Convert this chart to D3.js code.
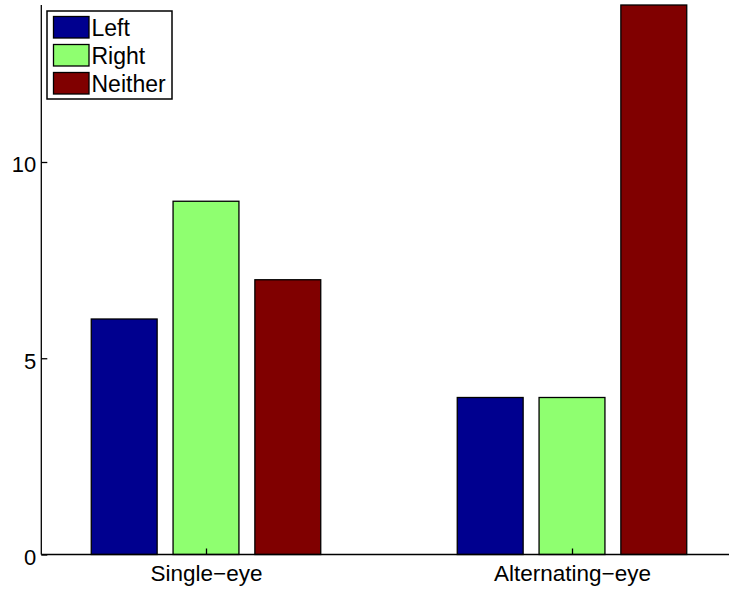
<!DOCTYPE html>
<html>
<head>
<meta charset="utf-8">
<script src="https://cdn.jsdelivr.net/npm/d3@7"></script>
<style>
  html, body { margin: 0; padding: 0; background: #fff; }
  svg { display: block; font-family: "Liberation Sans", Arial, Helvetica, sans-serif; }
</style>
</head>
<body>
<svg id="chart" width="729" height="590"></svg>
<script>
// Grouped bar chart: counts per category for each eye condition
const categories = ["Single\u2212eye", "Alternating\u2212eye"];
const seriesNames = ["Left", "Right", "Neither"];
const leftValues = [6, 4];
const rightValues = [9, 4];
const neitherValues = [7, 14];
const yTicks = [0, 5, 10];
const colors = ["#00008f", "#8fff70", "#800000"];

const series = [leftValues, rightValues, neitherValues];

const svg = d3.select("#chart");
const fontFamily = "Liberation Sans, Arial, sans-serif";

// numeric x positions 1..n for groups
const x = d3.scaleLinear().domain([0.55, 2.45]).range([41.3, 736.7]);
const y = d3.scaleLinear().domain([0, 14]).range([554.5, 5]);

const barW = 0.18;      // width of a single bar in group units
const barStep = 0.2235; // spacing between bar centres within a group

const g = svg.append("g");

series.forEach((vals, si) => {
  g.selectAll(".bar" + si)
    .data(vals)
    .join("rect")
    .attr("x", (d, i) => x(i + 1 + (si - 1) * barStep - barW / 2))
    .attr("width", x(barW) - x(0))
    .attr("y", d => y(d))
    .attr("height", d => y(0) - y(d))
    .attr("fill", colors[si])
    .attr("stroke", "#000")
    .attr("stroke-width", 1.3);
});

// Y axis
const yAxis = d3.axisLeft(y).tickValues(yTicks).tickSize(-6).tickPadding(5).tickFormat(d3.format("d"));
const ya = svg.append("g").attr("transform", `translate(${x(0.55)},0)`).call(yAxis);
ya.select(".domain").attr("stroke", "#000").attr("stroke-width", 1.3).attr("d", `M0,${y(14)}V${y(0)}`);
ya.selectAll(".tick line").attr("stroke", "#000").attr("stroke-width", 1.3).attr("x2", 6);
ya.selectAll(".tick text").attr("font-size", 22).attr("fill", "#000")
  .attr("font-family", fontFamily).attr("dy", "0.45em");

// X axis
const xAxis = d3.axisBottom(x).tickValues([1, 2]).tickSize(-6).tickPadding(10.5).tickFormat(d => categories[d - 1]);
const xa = svg.append("g").attr("transform", `translate(0,${y(0)})`).call(xAxis);
xa.select(".domain").attr("stroke", "#000").attr("stroke-width", 1.3).attr("d", `M${x(0.55)},0H${x(2.45)}`);
xa.selectAll(".tick line").attr("stroke", "#000").attr("stroke-width", 1.3).attr("y2", -6);
xa.selectAll(".tick text").attr("font-size", 22.5).attr("fill", "#000").attr("font-family", fontFamily);

// Legend
const legend = svg.append("g").attr("transform", "translate(47,11)");
legend.append("rect").attr("width", 125).attr("height", 88)
  .attr("fill", "#fff").attr("stroke", "#000").attr("stroke-width", 1.5);
seriesNames.forEach((name, i) => {
  const row = legend.append("g").attr("transform", `translate(0,${5.5 + i * 28})`);
  row.append("rect").attr("x", 6.5).attr("y", 0).attr("width", 35.5).attr("height", 21.5)
    .attr("fill", colors[i]).attr("stroke", "#000").attr("stroke-width", 1.3);
  row.append("text").attr("x", 44.5).attr("y", 19.5).attr("font-size", 23)
    .attr("font-family", fontFamily).attr("fill", "#000").text(name);
});
</script>
</body>
</html>
